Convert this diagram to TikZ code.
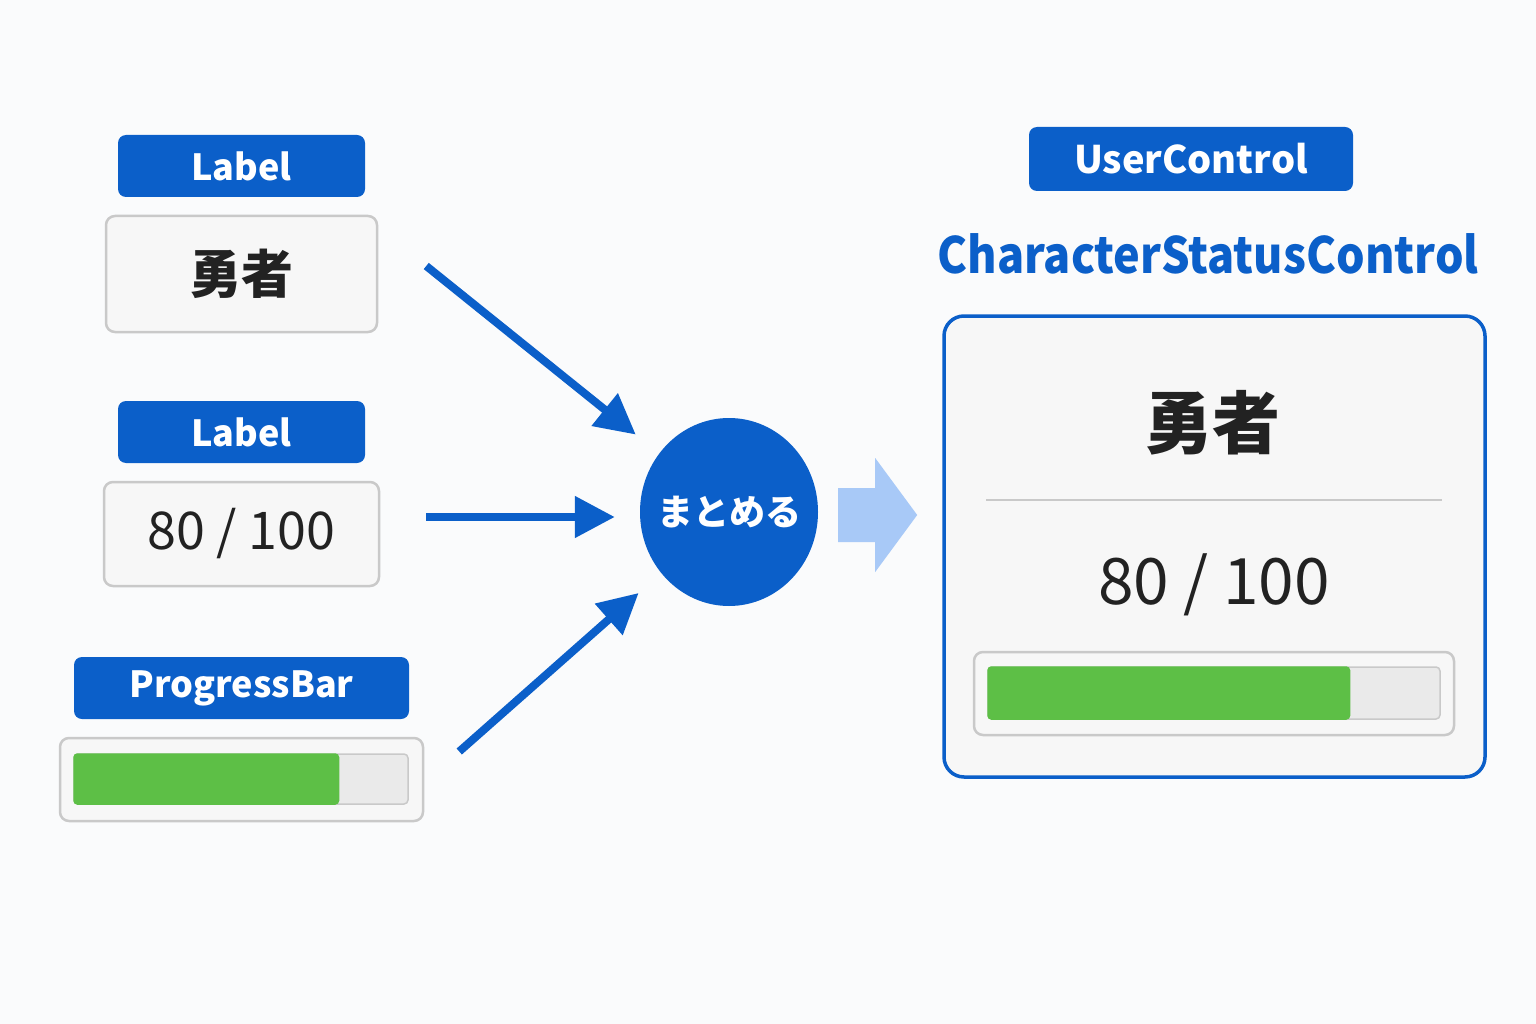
\documentclass[tikz,border=0pt]{standalone}
\usepackage{fontspec}
\setmainfont{Noto Sans CJK JP}
\usepackage{tikz}
\usetikzlibrary{shapes.geometric, arrows.meta, positioning, calc}
\definecolor{ctlblue}{HTML}{0B5FC9}
\definecolor{ctlsoft}{HTML}{A8C9F7}
\definecolor{ctlgray}{HTML}{C9C9C9}
\definecolor{ctlpanel}{HTML}{F7F7F7}
\definecolor{ctltrack}{HTML}{EAEAEA}
\definecolor{ctlgreen}{HTML}{5DBF46}
\definecolor{ctlink}{HTML}{222222}
\definecolor{ctlbg}{HTML}{FAFBFC}

\begin{document}
\begin{tikzpicture}[
    x=1pt, y=-1pt,
    tag/.style={rectangle, fill=ctlblue, rounded corners=8pt, minimum height=62pt, inner sep=0pt, text=white, font=\bfseries\fontsize{36}{40}\selectfont},
    panel/.style={rectangle, draw=ctlgray, fill=ctlpanel, line width=2.5pt, rounded corners=9pt, inner sep=0pt, text=ctlink},
    track/.style={rectangle, draw=ctlgray, fill=ctltrack, line width=1.5pt, rounded corners=4pt, inner sep=0pt, minimum height=50pt},
    merger/.style={ellipse, fill=ctlblue, minimum width=178pt, minimum height=188pt, inner sep=0pt},
    arrow/.style={-{Triangle[length=40pt,width=40pt]}, line width=8pt, ctlblue}
]
\useasboundingbox[fill=ctlbg] (0,0) rectangle (1536,1024);

% Left: the separate controls
\node[tag, minimum width=247pt] (lab1) at (241.5,166) {Label};
\node[panel, minimum width=271pt, minimum height=116pt, font=\bfseries\fontsize{52}{56}\selectfont] (name) at (241.5,274) {勇者};
\node[tag, minimum width=247pt] (lab2) at (241.5,432) {Label};
\node[panel, minimum width=275pt, minimum height=104pt, font=\fontsize{52}{56}\selectfont] (hp) at (241.5,534) {80 / 100};
\node[tag, minimum width=335pt] (lab3) at (241.5,688) {ProgressBar};
\node[panel, minimum width=363pt, minimum height=83pt] (barL) at (241.5,779.5) {};
\node[track, minimum width=334pt] (trackL) at (241,779) {};
\fill[ctlgreen, rounded corners=4pt] (trackL.north west) rectangle ($(trackL.south west)+(266,0)$);

% Middle: merging
\node[merger] (merge) at (729,512) {};
\node[text=white, font=\bfseries\fontsize{36}{40}\selectfont] (mergeText) at (merge.center) {まとめる};

\draw[arrow, shorten >=30pt] ($(name.east)+(48,-8)$) -- (merge.140);
\draw[arrow] ($(hp.east)+(46,-17)$) -- ($(merge.west)+(-25,5)$);
\draw[arrow, shorten >=30pt] ($(barL.east)+(35,-28)$) -- (merge.222);

\fill[ctlsoft] ($(merge.east)+(20,-24)$) -- ++(37,0) -- ++(0,-30) -- ++(42,57) -- ++(-42,57) -- ++(0,-30) -- ++(-37,0) -- cycle;

% Right: the user control
\node[tag, minimum width=324pt, minimum height=64pt, font=\bfseries\fontsize{38}{42}\selectfont] (ucLab) at (1191,159) {UserControl};
\node[text=ctlblue, font=\bfseries\fontsize{50}{56}\selectfont] (title) at (1208,254) {\scalebox{0.9}[1]{CharacterStatusControl}};
\node[panel, draw=ctlblue, line width=3.5pt, rounded corners=20pt, minimum width=541pt, minimum height=461pt] (card) at (1214.5,546.5) {};
\node[text=ctlink, font=\bfseries\fontsize{68}{72}\selectfont] (bigName) at (1212,423) {勇者};
\draw[ctlgray, line width=2.5pt] ($(card.west)+(44,-46.5)$) -- ($(card.east)+(-45,-46.5)$);
\node[text=ctlink, font=\fontsize{64}{70}\selectfont] (bigHp) at (1214,585) {80 / 100};
\node[panel, minimum width=480pt, minimum height=83pt] (barR) at (1214,693.5) {};
\node[track, minimum width=452pt, minimum height=52pt] (trackR) at (1214,693) {};
\fill[ctlgreen, rounded corners=4pt] (trackR.north west) rectangle ($(trackR.south west)+(363,0)$);

\end{tikzpicture}
\end{document}
